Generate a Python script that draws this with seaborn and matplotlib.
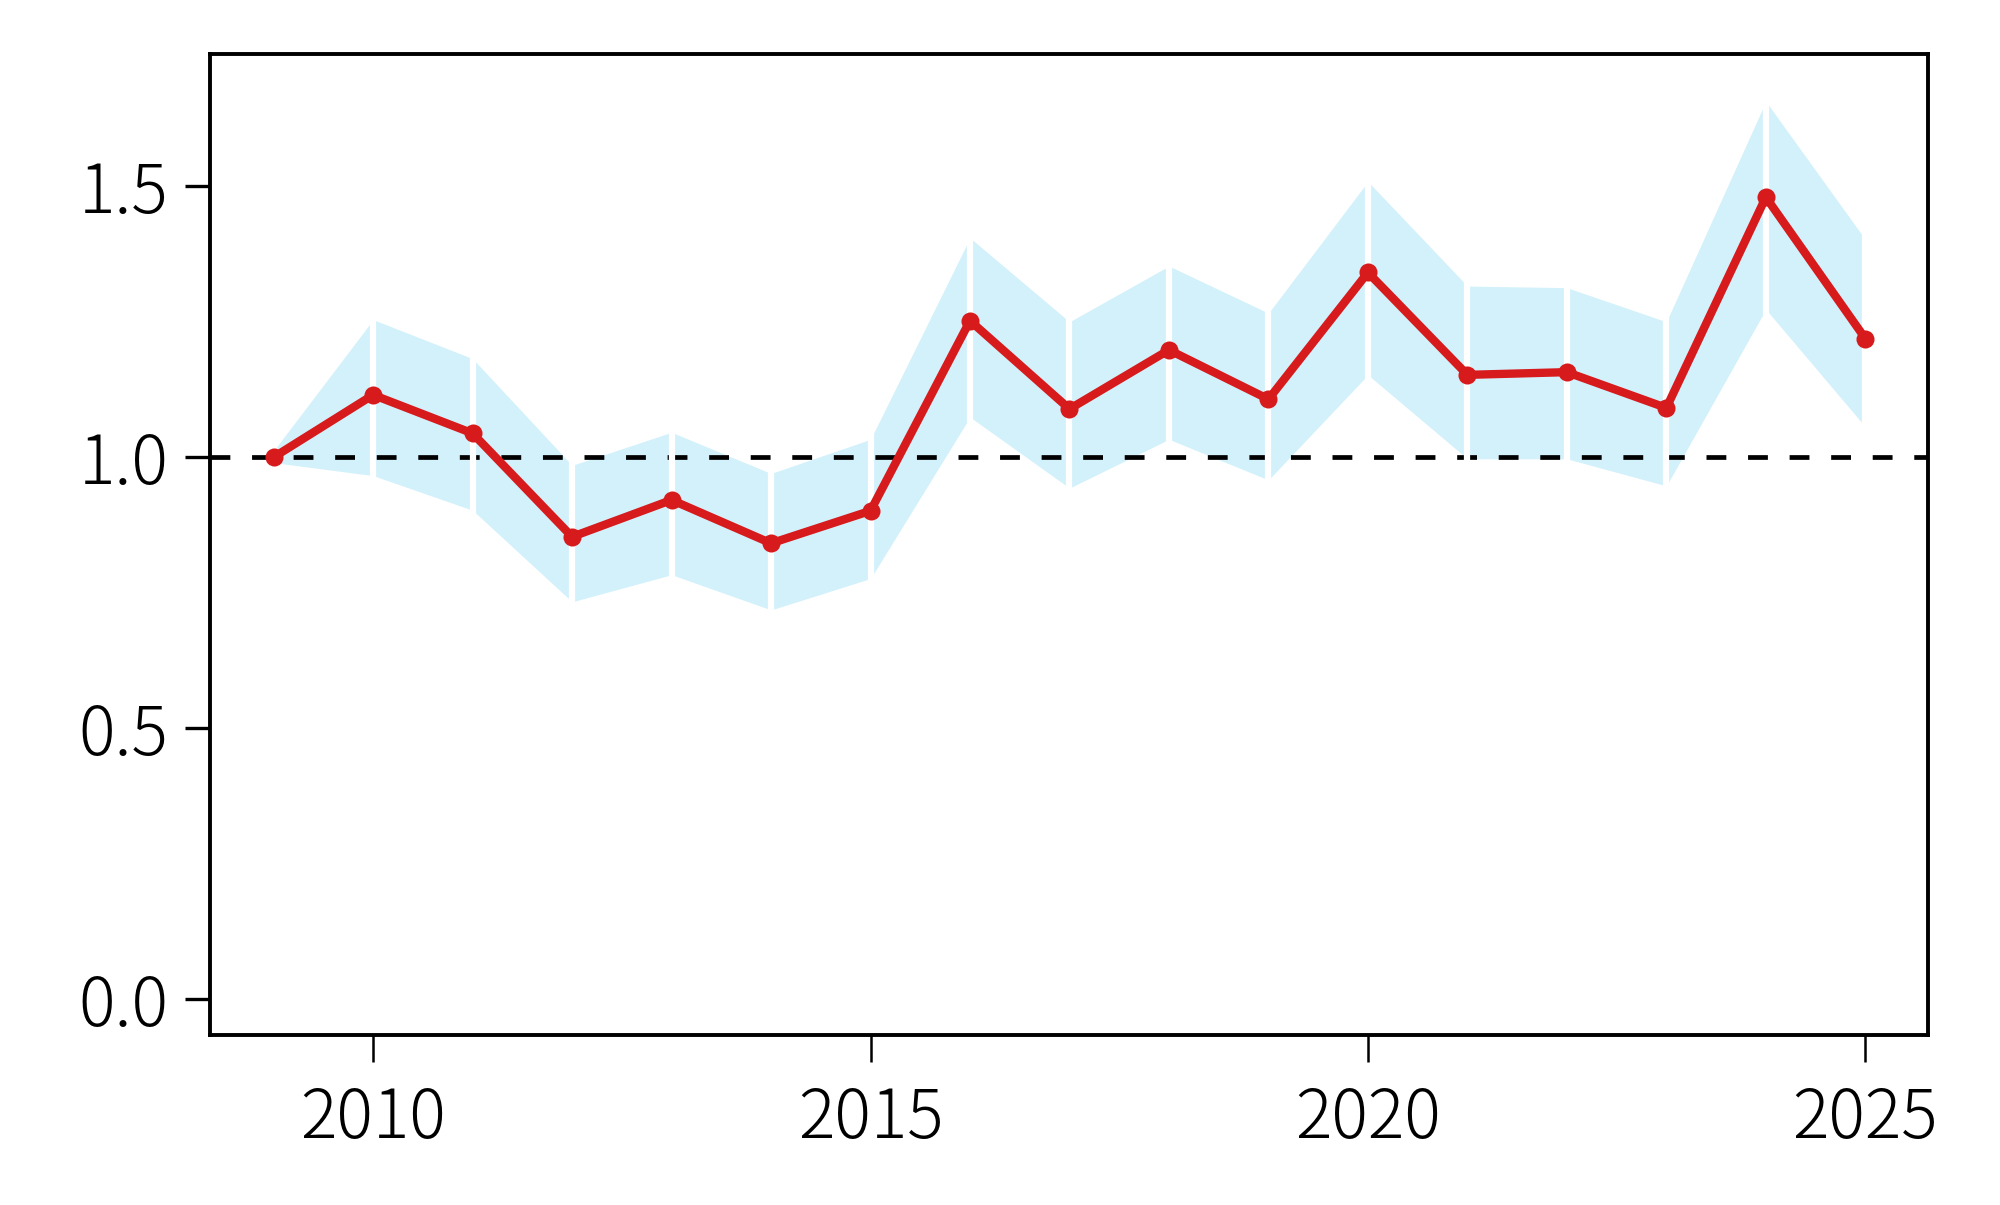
import matplotlib
matplotlib.use("Agg")
import matplotlib.pyplot as plt
import seaborn as sns
import pandas as pd

# 値
years = [2009, 2010, 2011, 2012, 2013, 2014, 2015, 2016, 2017,
         2018, 2019, 2020, 2021, 2022, 2023, 2024, 2025]
ratio = [1.000, 1.115, 1.044, 0.853, 0.921, 0.841, 0.901, 1.252, 1.089,
         1.198, 1.107, 1.341, 1.152, 1.157, 1.091, 1.480, 1.219]
upper = [1.012, 1.254, 1.182, 0.985, 1.046, 0.970, 1.033, 1.405, 1.250,
         1.353, 1.266, 1.509, 1.316, 1.313, 1.250, 1.657, 1.402]
lower = [0.990, 0.966, 0.902, 0.733, 0.783, 0.718, 0.776, 1.074, 0.943,
         1.033, 0.958, 1.152, 0.997, 0.997, 0.947, 1.273, 1.056]
y_ticks = [0.0, 0.5, 1.0, 1.5]
x_ticks = [2010, 2015, 2020, 2025]

df = pd.DataFrame({"year": years, "ratio": ratio, "upper": upper, "lower": lower})

sns.set_style("ticks")
plt.rcParams["font.family"] = ["Noto Sans CJK JP", "DejaVu Sans"]
plt.rcParams["font.weight"] = "light"

fig = plt.figure(figsize=(20, 12.05), dpi=100)
ax = fig.add_axes([0.105, 0.141, 0.859, 0.814])

# 信頼区間の帯
ax.fill_between(df["year"], df["lower"], df["upper"], color="#d3f1fb", lw=0, zorder=1)
# 基準線
ax.axhline(1.0, color="black", lw=3.4, ls=(0, (4.2, 4.6)), zorder=2)
# 年ごとの白い区切り
ax.vlines(df["year"], df["lower"] - 0.01, df["upper"] + 0.01, color="white", lw=4.5, zorder=3)

sns.lineplot(data=df, x="year", y="ratio", ax=ax, color="#d71a1c", linewidth=6,
             marker="o", markersize=13, markeredgewidth=0, zorder=4)

ax.set_xlim(2008.36, 2025.63)
ax.set_ylim(-0.067, 1.744)
ax.set_xticks(x_ticks)
ax.set_yticks(y_ticks)
ax.set_yticklabels([f"{v:.1f}" for v in y_ticks])
ax.set_xlabel("")
ax.set_ylabel("")

for s in ax.spines.values():
    s.set_visible(True)
    s.set_linewidth(2.8)
    s.set_color("black")

ax.tick_params(axis="y", length=18, width=2.4, pad=12, labelsize=49, colors="black")
ax.tick_params(axis="x", length=19.5, width=1.8, pad=16, labelsize=49, colors="black")

fig.savefig("out.png", dpi=100, facecolor="white")
